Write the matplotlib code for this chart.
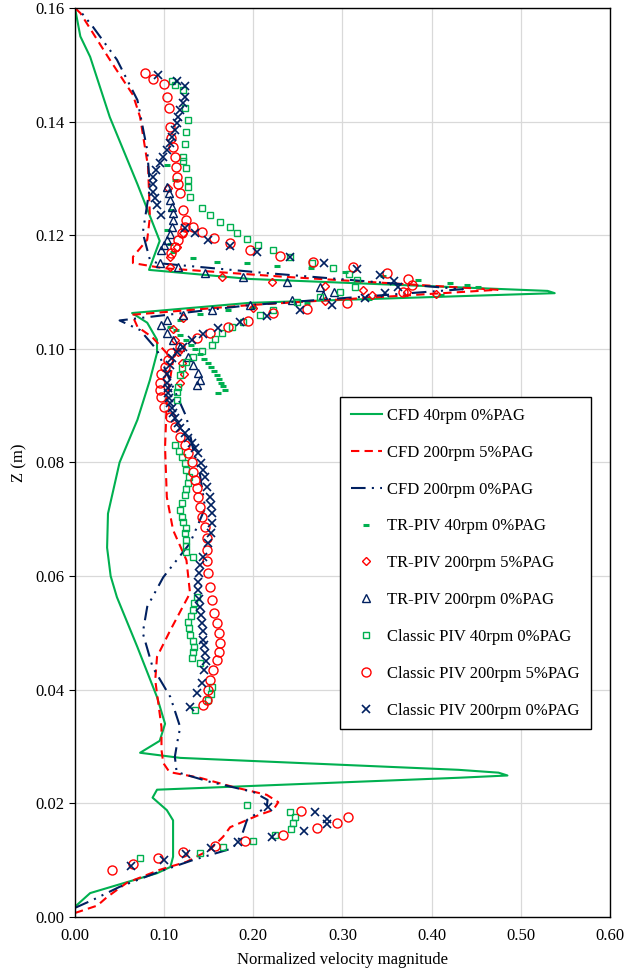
import matplotlib
matplotlib.use('Agg')
import matplotlib.pyplot as plt

plt.rcParams['font.family'] = ['Liberation Serif', 'DejaVu Serif']

# ---- CFD profiles (velocity, z) ----
cfd40_x = [0, 0.017, 0.092, 0.107, 0.110, 0.110, 0.103, 0.087, 0.092, 0.43, 0.485, 0.475, 0.43, 0.118,
           0.073, 0.095, 0.101, 0.092, 0.07, 0.047, 0.040, 0.036, 0.037, 0.05, 0.07, 0.084, 0.092, 0.092,
           0.081, 0.064, 0.196, 0.538, 0.530, 0.196, 0.083, 0.095, 0.07, 0.039, 0.017, 0.006, 0]
cfd40_z = [0.0018, 0.0042, 0.0077, 0.0088, 0.0106, 0.017, 0.0188, 0.021, 0.0224, 0.0245, 0.0249, 0.0254,
           0.0259, 0.028, 0.0289, 0.031, 0.034, 0.0387, 0.0475, 0.0563, 0.060, 0.065, 0.071, 0.080, 0.0875,
           0.0945, 0.0993, 0.1016, 0.1046, 0.1063, 0.1081, 0.1098, 0.1102, 0.1123, 0.1139, 0.119, 0.129,
           0.1408, 0.1514, 0.155, 0.16]

cfd200p5_x = [0, 0.025, 0.036, 0.058, 0.095, 0.125, 0.151, 0.166, 0.174, 0.207, 0.222, 0.228, 0.215, 0.177,
              0.140, 0.106, 0.099, 0.097, 0.097, 0.09, 0.092, 0.107, 0.129, 0.125, 0.11, 0.103, 0.101, 0.103,
              0.11, 0.087, 0.07, 0.064, 0.196, 0.474, 0.233, 0.099, 0.065, 0.065, 0.081, 0.084, 0.082, 0.073,
              0.065, 0.039, 0.006, 0]
cfd200p5_z = [0.0007, 0.002, 0.0035, 0.006, 0.0083, 0.0097, 0.0118, 0.0141, 0.0158, 0.018, 0.0188, 0.0202,
              0.0215, 0.0229, 0.0245, 0.0255, 0.0271, 0.0294, 0.0334, 0.0417, 0.0458, 0.0505, 0.057, 0.0628,
              0.0681, 0.0739, 0.0827, 0.091, 0.098, 0.102, 0.1039, 0.106, 0.1077, 0.1104, 0.1127, 0.1142,
              0.1151, 0.1162, 0.1192, 0.1232, 0.132, 0.1408, 0.1447, 0.1509, 0.1591, 0.16]

cfd200p0_x = [0, 0.02, 0.05, 0.095, 0.132, 0.177, 0.188, 0.193, 0.215, 0.216, 0.2, 0.151, 0.114, 0.112, 0.115,
              0.118, 0.107, 0.087, 0.076, 0.081, 0.099, 0.129, 0.146, 0.140, 0.132, 0.125, 0.105, 0.092, 0.073,
              0.05, 0.196, 0.435, 0.21, 0.092, 0.084, 0.076, 0.084, 0.081, 0.07, 0.047, 0.02, 0.003]
cfd200p0_z = [0.0016, 0.003, 0.0053, 0.008, 0.010, 0.0121, 0.0148, 0.0171, 0.0194, 0.0206, 0.022, 0.0238,
              0.0255, 0.0282, 0.031, 0.0334, 0.0387, 0.044, 0.05, 0.0546, 0.0598, 0.0658, 0.072, 0.078,
              0.0827, 0.088, 0.095, 0.0998, 0.1033, 0.105, 0.1077, 0.1105, 0.1134, 0.1151, 0.1157, 0.1204,
              0.1285, 0.135, 0.1438, 0.1509, 0.1567, 0.16]

# ---- TR-PIV ----
tr40_x = [0.103, 0.112, 0.108, 0.103, 0.106, 0.110, 0.132, 0.159, 0.193, 0.226, 0.265, 0.303, 0.345, 0.385,
          0.420, 0.440, 0.452, 0.41, 0.33, 0.26, 0.20, 0.172, 0.14, 0.118, 0.107, 0.113, 0.118, 0.124, 0.130,
          0.135, 0.140, 0.145, 0.149, 0.153, 0.156, 0.159, 0.162, 0.164, 0.166, 0.168, 0.160]
tr40_z = [0.1324, 0.1297, 0.1245, 0.121, 0.1185, 0.1170, 0.1160, 0.1153, 0.1151, 0.1146, 0.1142, 0.1135,
          0.1128, 0.1122, 0.1116, 0.1112, 0.1109, 0.1095, 0.1088, 0.1080, 0.1074, 0.1069, 0.1062, 0.1050,
          0.1039, 0.1033, 0.1025, 0.1016, 0.1007, 0.0999, 0.0991, 0.0983, 0.0975, 0.0968, 0.0961, 0.0954,
          0.0947, 0.0940, 0.0934, 0.0928, 0.0922]

tr200p5_x = [0.104, 0.121, 0.114, 0.107, 0.107, 0.165, 0.221, 0.280, 0.323, 0.372, 0.405, 0.333, 0.28, 0.20,
             0.121, 0.110, 0.112, 0.116, 0.120, 0.122, 0.118]
tr200p5_z = [0.1283, 0.1204, 0.118, 0.1162, 0.1144, 0.1127, 0.1118, 0.1111, 0.1104, 0.1100, 0.1097, 0.1095,
             0.1085, 0.1072, 0.1054, 0.1035, 0.1015, 0.0995, 0.0975, 0.0955, 0.0940]

tr200p0_x = [0.103, 0.105, 0.107, 0.109, 0.110, 0.110, 0.109, 0.106, 0.103, 0.100, 0.097, 0.095, 0.116, 0.146,
             0.188, 0.238, 0.275, 0.291, 0.278, 0.243, 0.196, 0.154, 0.121, 0.103, 0.097, 0.103, 0.110, 0.118,
             0.127, 0.132, 0.138, 0.140, 0.137]
tr200p0_z = [0.1285, 0.1274, 0.1262, 0.1250, 0.1239, 0.1227, 0.1215, 0.1203, 0.1192, 0.1183, 0.1174, 0.1151,
             0.1144, 0.1134, 0.1127, 0.1118, 0.1109, 0.1100, 0.1095, 0.1086, 0.1077, 0.1069, 0.1060, 0.1051,
             0.1042, 0.1028, 0.1016, 0.1003, 0.0986, 0.0972, 0.0958, 0.0945, 0.0937]

# ---- Classic PIV ----
cl40_x = [0.073, 0.14, 0.166, 0.2, 0.224, 0.242, 0.245, 0.247, 0.241, 0.193,
          0.135, 0.149, 0.152, 0.154, 0.14, 0.131, 0.132, 0.133, 0.132, 0.129, 0.128, 0.127, 0.130, 0.132,
          0.134, 0.137, 0.132, 0.125, 0.124, 0.125, 0.123, 0.124, 0.121, 0.120, 0.118, 0.120, 0.123, 0.125,
          0.127, 0.128, 0.125, 0.123, 0.120, 0.117, 0.112, 0.114, 0.114, 0.116, 0.118, 0.120, 0.125, 0.132,
          0.142, 0.154, 0.157, 0.165, 0.176, 0.188, 0.207, 0.222, 0.249, 0.275, 0.297, 0.314, 0.316, 0.307,
          0.289, 0.266, 0.241, 0.222, 0.205, 0.193, 0.182, 0.174, 0.163, 0.151, 0.142, 0.129, 0.127, 0.127,
          0.125, 0.121, 0.121, 0.123, 0.125, 0.127, 0.123, 0.121, 0.112, 0.109]
cl40_z = [0.0104, 0.0113, 0.0123, 0.0134, 0.0144, 0.0155, 0.0165, 0.0176, 0.0185, 0.0197,
          0.0364, 0.0382, 0.0393, 0.0405, 0.0447, 0.0456, 0.0466, 0.0475, 0.0486, 0.0496, 0.0508, 0.0519,
          0.0530, 0.0540, 0.0552, 0.0563, 0.0634, 0.0643, 0.0653, 0.0664, 0.0675, 0.0685, 0.0695, 0.0704,
          0.0716, 0.0728, 0.0743, 0.0754, 0.0764, 0.0775, 0.0787, 0.0799, 0.0810, 0.0820, 0.0831, 0.0910,
          0.0924, 0.0933, 0.0954, 0.0966, 0.0977, 0.0985, 0.0996, 0.1007, 0.1017, 0.1028, 0.1039, 0.1047,
          0.1060, 0.1069, 0.1083, 0.1091, 0.1100, 0.1109, 0.1121, 0.1132, 0.1142, 0.1151, 0.1162, 0.1174,
          0.1183, 0.1193, 0.1204, 0.1215, 0.1223, 0.1236, 0.1248, 0.1267, 0.1285, 0.1297, 0.1318, 0.1330,
          0.1338, 0.1360, 0.1382, 0.1403, 0.1424, 0.1455, 0.1465, 0.1472]

cl200p5_x = [0.041, 0.065, 0.093, 0.121, 0.157, 0.191, 0.233, 0.271, 0.294, 0.306, 0.253,
             0.144, 0.148, 0.149, 0.151, 0.155, 0.159, 0.161, 0.163, 0.162, 0.159, 0.156, 0.154, 0.151, 0.149,
             0.148, 0.148, 0.148, 0.146, 0.142, 0.140, 0.138, 0.137, 0.135, 0.132, 0.131, 0.127, 0.123, 0.118,
             0.112, 0.107, 0.100, 0.097, 0.095, 0.095, 0.097, 0.101, 0.104, 0.108, 0.118, 0.137, 0.151, 0.172,
             0.194, 0.222, 0.260, 0.305, 0.368, 0.378, 0.373, 0.350, 0.312, 0.267, 0.230, 0.196, 0.174, 0.156,
             0.142, 0.132, 0.108, 0.112, 0.116, 0.120, 0.123, 0.125, 0.121, 0.118, 0.116, 0.114, 0.113, 0.112,
             0.110, 0.108, 0.107, 0.105, 0.103, 0.100, 0.087, 0.078]
cl200p5_z = [0.0083, 0.0093, 0.0104, 0.0114, 0.0125, 0.0134, 0.0144, 0.0157, 0.0165, 0.0176, 0.0187,
             0.0373, 0.0382, 0.0400, 0.0417, 0.0435, 0.0452, 0.0466, 0.0482, 0.0500, 0.0518, 0.0535, 0.0558,
             0.0581, 0.0606, 0.0626, 0.0646, 0.0667, 0.0687, 0.0704, 0.0722, 0.0739, 0.0755, 0.0769, 0.0783,
             0.0801, 0.0817, 0.0831, 0.0845, 0.0863, 0.0880, 0.0898, 0.0915, 0.0928, 0.0940, 0.0955, 0.0968,
             0.0980, 0.0992, 0.1003, 0.1019, 0.1028, 0.1039, 0.1049, 0.1063, 0.1070, 0.1081, 0.1100, 0.1112,
             0.1123, 0.1134, 0.1144, 0.1153, 0.1164, 0.1174, 0.1186, 0.1195, 0.1206, 0.1215, 0.1169, 0.1180,
             0.1192, 0.1204, 0.1215, 0.1227, 0.1245, 0.1274, 0.1290, 0.1303, 0.1320, 0.1338, 0.1355, 0.1372,
             0.1390, 0.1424, 0.1444, 0.1466, 0.1475, 0.1486]

cl200p0_x = [0.063, 0.1, 0.125, 0.152, 0.183, 0.221, 0.257, 0.283, 0.283, 0.269, 0.217,
             0.129, 0.137, 0.142, 0.145, 0.147, 0.146, 0.145, 0.144, 0.143, 0.142, 0.141, 0.140, 0.139, 0.138,
             0.138, 0.139, 0.140, 0.144, 0.149, 0.152, 0.154, 0.154, 0.153, 0.151, 0.148, 0.146, 0.144, 0.141,
             0.138, 0.135, 0.131, 0.127, 0.123, 0.118, 0.115, 0.112, 0.110, 0.109, 0.107, 0.105, 0.104, 0.104,
             0.103, 0.103, 0.106, 0.109, 0.114, 0.121, 0.131, 0.144, 0.160, 0.185, 0.215, 0.252, 0.288, 0.325,
             0.348, 0.362, 0.358, 0.342, 0.316, 0.279, 0.241, 0.204, 0.174, 0.149, 0.135, 0.123, 0.097, 0.092,
             0.090, 0.087, 0.087, 0.087, 0.091, 0.095, 0.099, 0.103, 0.106, 0.109, 0.112, 0.114, 0.116, 0.118,
             0.121, 0.123, 0.123, 0.114, 0.093]
cl200p0_z = [0.0090, 0.0100, 0.0111, 0.0121, 0.0132, 0.0141, 0.0151, 0.0164, 0.0173, 0.0185, 0.0194,
             0.0370, 0.0394, 0.0412, 0.0435, 0.0450, 0.0465, 0.0478, 0.0488, 0.0503, 0.0518, 0.0532, 0.0546,
             0.0560, 0.0576, 0.0590, 0.0606, 0.0620, 0.0634, 0.0658, 0.0676, 0.0694, 0.0711, 0.0725, 0.0739,
             0.0757, 0.0775, 0.0787, 0.0799, 0.0817, 0.0826, 0.0834, 0.0843, 0.0852, 0.0861, 0.0870, 0.0879,
             0.0887, 0.0896, 0.0905, 0.0914, 0.0922, 0.0931, 0.0940, 0.0956, 0.0972, 0.0984, 0.0995, 0.1003,
             0.1016, 0.1026, 0.1037, 0.1047, 0.1058, 0.1069, 0.1077, 0.1090, 0.1098, 0.1109, 0.1120, 0.1130,
             0.1141, 0.1151, 0.1162, 0.1170, 0.1181, 0.1192, 0.1204, 0.1213, 0.1236, 0.1253, 0.1265, 0.1276,
             0.1290, 0.1303, 0.1315, 0.1327, 0.1338, 0.1350, 0.1362, 0.1373, 0.1385, 0.1397, 0.1408, 0.1420,
             0.1432, 0.1443, 0.1463, 0.1472, 0.1482]

green = '#00b050'
red = '#ff0000'
navy = '#002060'

fig = plt.figure(figsize=(6.27, 9.73), dpi=100)
ax = fig.add_axes([0.1196, 0.0576, 0.8533, 0.9342])

ax.plot(cfd40_x, cfd40_z, color=green, lw=1.5, label='CFD 40rpm 0%PAG')
ax.plot(cfd200p5_x, cfd200p5_z, color=red, lw=1.5, dashes=(4, 2.5), label='CFD 200rpm 5%PAG')
ax.plot(cfd200p0_x, cfd200p0_z, color=navy, lw=1.5, dashes=(7, 3, 1, 3, 1, 3), label='CFD 200rpm 0%PAG')

ax.plot(tr40_x, tr40_z, ls='none', marker='_', ms=5, mew=2.2, color=green, label='TR-PIV 40rpm 0%PAG')
ax.plot(tr200p5_x, tr200p5_z, ls='none', marker='D', ms=4, mew=1, mfc='none', mec=red,
        label='TR-PIV 200rpm 5%PAG')
ax.plot(tr200p0_x, tr200p0_z, ls='none', marker='^', ms=5.5, mew=1, mfc='none', mec=navy,
        label='TR-PIV 200rpm 0%PAG')
ax.plot(cl40_x, cl40_z, ls='none', marker='s', ms=4.5, mew=1, mfc='none', mec=green,
        label='Classic PIV 40rpm 0%PAG')
ax.plot(cl200p5_x, cl200p5_z, ls='none', marker='o', ms=6.5, mew=1, mfc='none', mec=red,
        label='Classic PIV 200rpm 5%PAG')
ax.plot(cl200p0_x, cl200p0_z, ls='none', marker='x', ms=5.5, mew=1.2, color=navy,
        label='Classic PIV 200rpm 0%PAG')

ax.set_xlim(0, 0.6)
ax.set_ylim(0, 0.16)
ax.set_xticks([0, 0.1, 0.2, 0.3, 0.4, 0.5, 0.6])
ax.set_xticklabels(['0.00', '0.10', '0.20', '0.30', '0.40', '0.50', '0.60'])
ax.set_yticks([0, 0.02, 0.04, 0.06, 0.08, 0.10, 0.12, 0.14, 0.16])
ax.set_yticklabels(['0.00', '0.02', '0.04', '0.06', '0.08', '0.10', '0.12', '0.14', '0.16'])
ax.tick_params(axis='x', length=0, labelsize=12, pad=8)
ax.tick_params(axis='y', length=4, labelsize=12, direction='out')
ax.grid(color='#d9d9d9', lw=0.9)
ax.set_axisbelow(True)
for s in ax.spines.values():
    s.set_color('black')
    s.set_linewidth(1)

ax.set_xlabel('Normalized velocity magnitude', fontsize=12, labelpad=6)
ax.set_ylabel('Z (m)', fontsize=12, labelpad=6)

leg = ax.legend(loc='upper left', bbox_to_anchor=(0.495, 0.572), borderaxespad=0, fontsize=12,
                labelspacing=1.25, handlelength=1.9, handletextpad=0.3, borderpad=0.65,
                fancybox=False, framealpha=1, edgecolor='black')
leg.get_frame().set_linewidth(1)

fig.savefig('out.png', dpi=100)
